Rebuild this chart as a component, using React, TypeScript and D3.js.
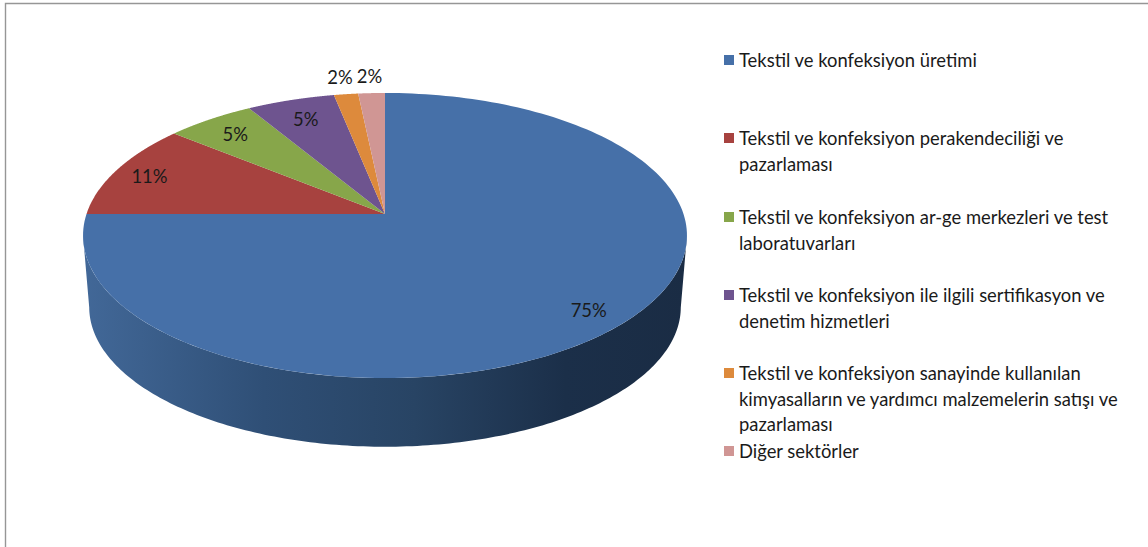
import React from "react";
import * as d3 from "d3";

const categories = [
  "Tekstil ve konfeksiyon üretimi",
  "Tekstil ve konfeksiyon perakendeciliği ve pazarlaması",
  "Tekstil ve konfeksiyon ar-ge merkezleri ve test laboratuvarları",
  "Tekstil ve konfeksiyon ile ilgili sertifikasyon ve denetim hizmetleri",
  "Tekstil ve konfeksiyon sanayinde kullanılan kimyasalların ve yardımcı malzemelerin satışı ve pazarlaması",
  "Diğer sektörler",
];
// Wrapped exactly as in the reference legend
const legendLines = [
  ["Tekstil ve konfeksiyon üretimi"],
  ["Tekstil ve konfeksiyon perakendeciliği ve", "pazarlaması"],
  ["Tekstil ve konfeksiyon ar-ge merkezleri ve test", "laboratuvarları"],
  ["Tekstil ve konfeksiyon ile ilgili sertifikasyon ve", "denetim hizmetleri"],
  ["Tekstil ve konfeksiyon sanayinde kullanılan", "kimyasalların ve yardımcı malzemelerin satışı ve", "pazarlaması"],
  ["Diğer sektörler"],
];
const shares = [75, 10.9, 5.5, 5.45, 1.5, 1.65];
const percentLabels = ["75%", "11%", "5%", "5%", "2%", "2%"];
const colors = ["#4670a8", "#a7423f", "#87a64a", "#6e548f", "#dd8a3c", "#d09694"];

// layout
const W = 1148, H = 547;
const CX = 385, CY = 214, RX = 298.5, RY = 139.3, K = 0.151;
const WALL_SCALE = 0.98, WALL_DROP = 72.5;
const labelRadius = [0.875, 0.875, 0.84, 0.82, 1.18, 1.18];
const LABEL_DY = 1;
const legendRowY = [60, 138, 217, 295, 373, 451];
const LINE_H = 25.6;
const FONT_SIZE = 18.4;
const FONT = "Lato, Carlito, Calibri, sans-serif";

const project = (theta: number, f = 1, drop = 0): [number, number] => {
  const u = Math.sin(theta) * f;
  const v = -Math.cos(theta) * f;
  const w = 1 - K * v;
  return [CX + (RX * u) / w, CY + drop + (RY * v) / w];
};

const line = d3.line<[number, number]>().x((d) => d[0]).y((d) => d[1]);
const sample = (a: number, b: number, f = 1, drop = 0) =>
  d3.range(0, 181).map((i) => project(a + ((b - a) * i) / 180, f, drop));

const pieGen = d3.pie<number>().sort(null);
const arcs = pieGen(shares);

const T0 = Math.acos(-K);
const T1 = 2 * Math.PI - T0;
const wallPath =
  line([...sample(T0, T1, 1, 0), ...sample(T1, T0, WALL_SCALE, WALL_DROP)]) + "Z";

const wallX = d3.scaleLinear().domain([0, 1]).range([83, 686]);

export default function App() {
  return (
    <svg
      width={W}
      height={H}
      viewBox={`0 0 ${W} ${H}`}
      style={{ position: "fixed", left: 0, top: 0, background: "#fff", display: "block" }}
    >
      <defs>
        <linearGradient id="wall" gradientUnits="userSpaceOnUse" x1={wallX(0)} x2={wallX(1)} y1={0} y2={0}>
          <stop offset="0" stopColor="#426898" />
          <stop offset="0.3" stopColor="#2f4f76" />
          <stop offset="0.55" stopColor="#284464" />
          <stop offset="0.8" stopColor="#1b2f49" />
          <stop offset="1" stopColor="#1a2c44" />
        </linearGradient>
      </defs>
      <rect x={0} y={0} width={W} height={H} fill="#fff" />
      <path d={`M5.5 ${H}V3.5H${W}`} fill="none" stroke="#969696" strokeWidth={1.4} />
      <path d={wallPath} fill="url(#wall)" />
      {arcs.map((a, i) => (
        <path
          key={categories[i]}
          d={line([[CX, CY], ...sample(a.startAngle, a.endAngle)]) + "Z"}
          fill={colors[i]}
        />
      ))}
      {arcs.map((a, i) => {
        const [x, y] = project((a.startAngle + a.endAngle) / 2, labelRadius[i]);
        return (
          <text
            key={i}
            x={x}
            y={y + LABEL_DY}
            textAnchor="middle"
            dominantBaseline="central"
            fontFamily={FONT}
            fontSize={FONT_SIZE}
            fill="#1a1a1a"
          >
            {percentLabels[i]}
          </text>
        );
      })}
      {legendLines.map((lines, i) => (
        <g key={i}>
          <rect x={724} y={legendRowY[i] - 5} width={10} height={10} fill={colors[i]} />
          {lines.map((t, j) => (
            <text
              key={j}
              x={739}
              y={legendRowY[i] + j * LINE_H}
              dominantBaseline="central"
              fontFamily={FONT}
              fontSize={FONT_SIZE}
              fill="#1a1a1a"
            >
              {t}
            </text>
          ))}
        </g>
      ))}
    </svg>
  );
}
